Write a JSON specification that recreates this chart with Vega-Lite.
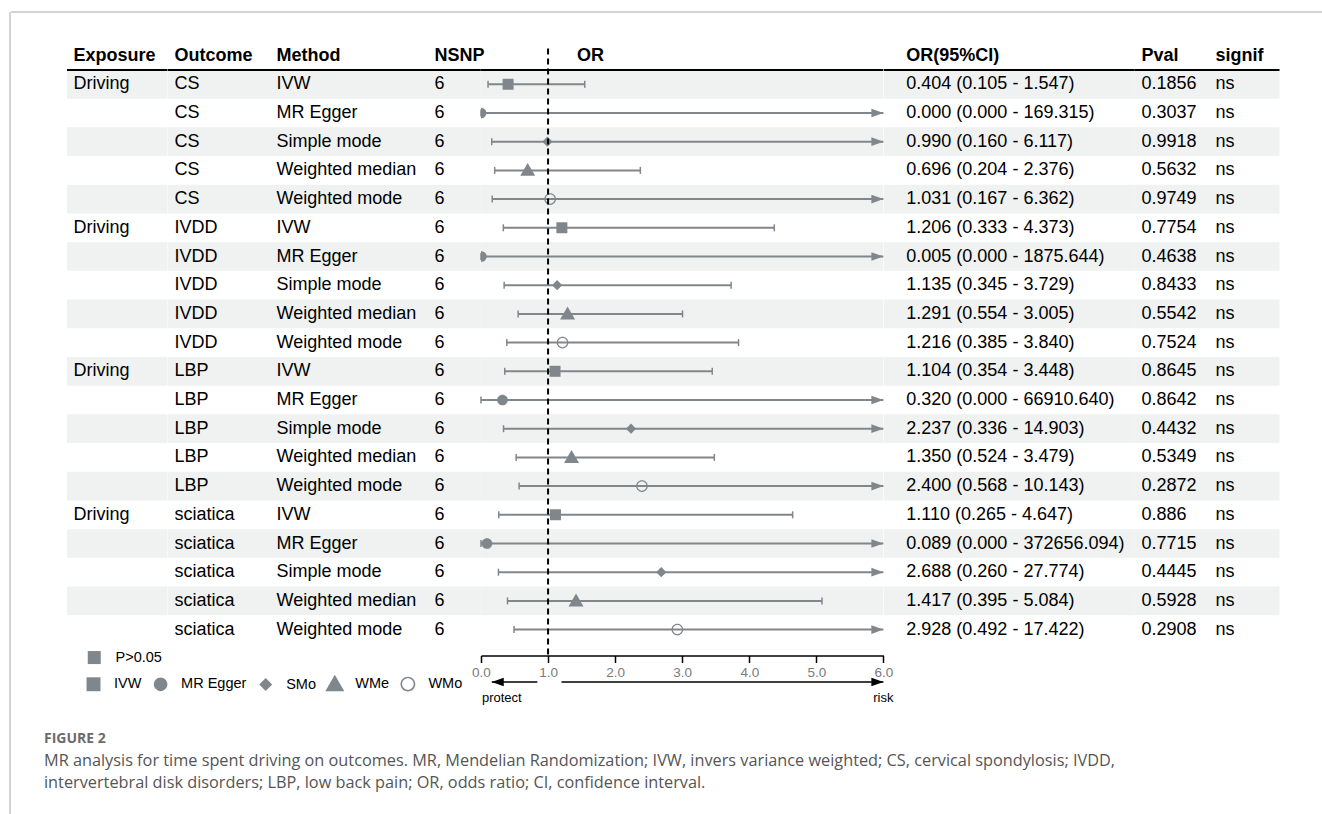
{
  "$schema": "https://vega.github.io/schema/vega-lite/v6.json",
  "padding": {"left": 9, "top": 11, "right": 0, "bottom": 0},
  "bounds": "flush",
  "spacing": 0,
  "config": {
    "font": "Liberation Sans",
    "view": {"stroke": null},
    "text": {"font": "Liberation Sans", "fontSize": 18, "color": "#000"},
    "legend": {"symbolFillColor": "#80878c", "symbolStrokeWidth": 0, "padding": 0}
  },
  "datasets": {
    "rows": [
      {"row": 1, "Exposure": "Driving", "Outcome": "CS", "Method": "IVW", "NSNP": 6, "or": 0.404, "lower": 0.105, "upper": 1.547, "ci": "0.404 (0.105 - 1.547)", "Pval": "0.1856", "signif": "ns"},
      {"row": 2, "Exposure": "", "Outcome": "CS", "Method": "MR Egger", "NSNP": 6, "or": 0.000, "lower": 0.000, "upper": 169.315, "ci": "0.000 (0.000 - 169.315)", "Pval": "0.3037", "signif": "ns"},
      {"row": 3, "Exposure": "", "Outcome": "CS", "Method": "Simple mode", "NSNP": 6, "or": 0.990, "lower": 0.160, "upper": 6.117, "ci": "0.990 (0.160 - 6.117)", "Pval": "0.9918", "signif": "ns"},
      {"row": 4, "Exposure": "", "Outcome": "CS", "Method": "Weighted median", "NSNP": 6, "or": 0.696, "lower": 0.204, "upper": 2.376, "ci": "0.696 (0.204 - 2.376)", "Pval": "0.5632", "signif": "ns"},
      {"row": 5, "Exposure": "", "Outcome": "CS", "Method": "Weighted mode", "NSNP": 6, "or": 1.031, "lower": 0.167, "upper": 6.362, "ci": "1.031 (0.167 - 6.362)", "Pval": "0.9749", "signif": "ns"},
      {"row": 6, "Exposure": "Driving", "Outcome": "IVDD", "Method": "IVW", "NSNP": 6, "or": 1.206, "lower": 0.333, "upper": 4.373, "ci": "1.206 (0.333 - 4.373)", "Pval": "0.7754", "signif": "ns"},
      {"row": 7, "Exposure": "", "Outcome": "IVDD", "Method": "MR Egger", "NSNP": 6, "or": 0.005, "lower": 0.000, "upper": 1875.644, "ci": "0.005 (0.000 - 1875.644)", "Pval": "0.4638", "signif": "ns"},
      {"row": 8, "Exposure": "", "Outcome": "IVDD", "Method": "Simple mode", "NSNP": 6, "or": 1.135, "lower": 0.345, "upper": 3.729, "ci": "1.135 (0.345 - 3.729)", "Pval": "0.8433", "signif": "ns"},
      {"row": 9, "Exposure": "", "Outcome": "IVDD", "Method": "Weighted median", "NSNP": 6, "or": 1.291, "lower": 0.554, "upper": 3.005, "ci": "1.291 (0.554 - 3.005)", "Pval": "0.5542", "signif": "ns"},
      {"row": 10, "Exposure": "", "Outcome": "IVDD", "Method": "Weighted mode", "NSNP": 6, "or": 1.216, "lower": 0.385, "upper": 3.840, "ci": "1.216 (0.385 - 3.840)", "Pval": "0.7524", "signif": "ns"},
      {"row": 11, "Exposure": "Driving", "Outcome": "LBP", "Method": "IVW", "NSNP": 6, "or": 1.104, "lower": 0.354, "upper": 3.448, "ci": "1.104 (0.354 - 3.448)", "Pval": "0.8645", "signif": "ns"},
      {"row": 12, "Exposure": "", "Outcome": "LBP", "Method": "MR Egger", "NSNP": 6, "or": 0.320, "lower": 0.000, "upper": 66910.640, "ci": "0.320 (0.000 - 66910.640)", "Pval": "0.8642", "signif": "ns"},
      {"row": 13, "Exposure": "", "Outcome": "LBP", "Method": "Simple mode", "NSNP": 6, "or": 2.237, "lower": 0.336, "upper": 14.903, "ci": "2.237 (0.336 - 14.903)", "Pval": "0.4432", "signif": "ns"},
      {"row": 14, "Exposure": "", "Outcome": "LBP", "Method": "Weighted median", "NSNP": 6, "or": 1.350, "lower": 0.524, "upper": 3.479, "ci": "1.350 (0.524 - 3.479)", "Pval": "0.5349", "signif": "ns"},
      {"row": 15, "Exposure": "", "Outcome": "LBP", "Method": "Weighted mode", "NSNP": 6, "or": 2.400, "lower": 0.568, "upper": 10.143, "ci": "2.400 (0.568 - 10.143)", "Pval": "0.2872", "signif": "ns"},
      {"row": 16, "Exposure": "Driving", "Outcome": "sciatica", "Method": "IVW", "NSNP": 6, "or": 1.110, "lower": 0.265, "upper": 4.647, "ci": "1.110 (0.265 - 4.647)", "Pval": "0.886", "signif": "ns"},
      {"row": 17, "Exposure": "", "Outcome": "sciatica", "Method": "MR Egger", "NSNP": 6, "or": 0.089, "lower": 0.000, "upper": 372656.094, "ci": "0.089 (0.000 - 372656.094)", "Pval": "0.7715", "signif": "ns"},
      {"row": 18, "Exposure": "", "Outcome": "sciatica", "Method": "Simple mode", "NSNP": 6, "or": 2.688, "lower": 0.260, "upper": 27.774, "ci": "2.688 (0.260 - 27.774)", "Pval": "0.4445", "signif": "ns"},
      {"row": 19, "Exposure": "", "Outcome": "sciatica", "Method": "Weighted median", "NSNP": 6, "or": 1.417, "lower": 0.395, "upper": 5.084, "ci": "1.417 (0.395 - 5.084)", "Pval": "0.5928", "signif": "ns"},
      {"row": 20, "Exposure": "", "Outcome": "sciatica", "Method": "Weighted mode", "NSNP": 6, "or": 2.928, "lower": 0.492, "upper": 17.422, "ci": "2.928 (0.492 - 17.422)", "Pval": "0.2908", "signif": "ns"}
    ],
    "headers": [
      {"col": "Exposure"}, {"col": "Outcome"}, {"col": "Method"}, {"col": "NSNP"},
      {"col": "OR"}, {"col": "OR(95%CI)"}, {"col": "Pval"}, {"col": "signif"}
    ],
    "arrows": [
      {"label": "protect", "from": 0.84, "to": 0.16, "at": 0.31},
      {"label": "risk", "from": 1.2, "to": 6, "at": 6}
    ],
    "caption": [
      {"i": 0, "line": "FIGURE 2"},
      {"i": 1, "line": "MR analysis for time spent driving on outcomes. MR, Mendelian Randomization; IVW, invers variance weighted; CS, cervical spondylosis; IVDD,"},
      {"i": 2, "line": "intervertebral disk disorders; LBP, low back pain; OR, odds ratio; CI, confidence interval."}
    ]
  },
  "hconcat": [
    {
      "width": 1, "height": 900,
      "data": {"values": [{"k": 0}]},
      "mark": {"type": "rule", "color": "#a8a8a8", "strokeWidth": 1},
      "encoding": {"x": {"datum": 0, "type": "quantitative", "scale": {"domain": [0, 1]}, "axis": null}}
    },
    {
      "vconcat": [
        {
          "width": 1312, "height": 1,
          "data": {"values": [{"k": 0}]},
          "mark": {"type": "rule", "color": "#a8a8a8", "strokeWidth": 1},
          "encoding": {"y": {"datum": 1, "type": "quantitative", "scale": {"domain": [0, 1]}, "axis": null}}
        },
        {
          "hconcat": [
            {
              "width": 56, "height": 642.5,
              "data": {"name": "caption"},
              "layer": [
                {"transform": [{"filter": "datum.i == 0"}], "mark": {"type": "text", "align": "left", "dx": 33, "font": "Open Sans", "fontWeight": "bold", "fontSize": 14, "color": "#6b6b6b"},
                 "encoding": {"x": {"value": 0}, "y": {"field": "i", "type": "quantitative", "scale": {"domain": [-33, -3.7955], "reverse": true, "nice": false, "zero": false}, "axis": null}, "text": {"field": "line"}}},
                {"transform": [{"filter": "datum.i > 0"}], "mark": {"type": "text", "align": "left", "dx": 33, "font": "Open Sans", "fontSize": 16.3, "color": "#555"},
                 "encoding": {"x": {"value": 0}, "y": {"field": "i", "type": "quantitative"}, "text": {"field": "line"}}}
              ]
            },
            {
              "width": 100.5, "height": 642.5,
              "layer": [
                {"data": {"name": "rows"}, "transform": [{"filter": "datum.row % 2 == 1"}], "mark": {"type": "rect", "color": "#eff2f1", "yOffset": -14.35, "y2Offset": 14.35}, "encoding": {"x": {"value": 0}, "x2": {"value": "width"}, "y": {"field": "row", "type": "quantitative", "scale": {"domain": [-1.4843, 20.9024], "reverse": true, "nice": false, "zero": false}, "axis": null}, "y2": {"field": "row"}}},
                {"data": {"name": "headers"}, "transform": [{"filter": "datum.col == 'Exposure'"}], "mark": {"type": "rule", "color": "#000", "strokeWidth": 2}, "encoding": {"y": {"datum": 0.5, "type": "quantitative"}}},
                {"data": {"name": "headers"}, "transform": [{"filter": "datum.col == 'Exposure'"}], "mark": {"type": "text", "align": "left", "dx": 6.5, "fontWeight": "bold"}, "encoding": {"x": {"value": 0}, "y": {"datum": 0, "type": "quantitative"}, "text": {"field": "col"}}},
                {"data": {"name": "rows"}, "mark": {"type": "text", "align": "left", "dx": 6.5}, "encoding": {"x": {"value": 0}, "y": {"field": "row", "type": "quantitative"}, "text": {"field": "Exposure"}}}
              ]
            },
            {
              "width": 102, "height": 642.5,
              "layer": [
                {"data": {"name": "rows"}, "transform": [{"filter": "datum.row % 2 == 1"}], "mark": {"type": "rect", "color": "#eff2f1", "yOffset": -14.35, "y2Offset": 14.35}, "encoding": {"x": {"value": 0}, "x2": {"value": "width"}, "y": {"field": "row", "type": "quantitative", "scale": {"domain": [-1.4843, 20.9024], "reverse": true, "nice": false, "zero": false}, "axis": null}, "y2": {"field": "row"}}},
                {"data": {"name": "headers"}, "transform": [{"filter": "datum.col == 'Outcome'"}], "mark": {"type": "rule", "color": "#000", "strokeWidth": 2}, "encoding": {"y": {"datum": 0.5, "type": "quantitative"}}},
                {"data": {"name": "headers"}, "transform": [{"filter": "datum.col == 'Outcome'"}], "mark": {"type": "text", "align": "left", "dx": 6.5, "fontWeight": "bold"}, "encoding": {"x": {"value": 0}, "y": {"datum": 0, "type": "quantitative"}, "text": {"field": "col"}}},
                {"data": {"name": "rows"}, "mark": {"type": "text", "align": "left", "dx": 6.5}, "encoding": {"x": {"value": 0}, "y": {"field": "row", "type": "quantitative"}, "text": {"field": "Outcome"}}}
              ]
            },
            {
              "width": 158, "height": 642.5,
              "layer": [
                {"data": {"name": "rows"}, "transform": [{"filter": "datum.row % 2 == 1"}], "mark": {"type": "rect", "color": "#eff2f1", "yOffset": -14.35, "y2Offset": 14.35}, "encoding": {"x": {"value": 0}, "x2": {"value": "width"}, "y": {"field": "row", "type": "quantitative", "scale": {"domain": [-1.4843, 20.9024], "reverse": true, "nice": false, "zero": false}, "axis": null}, "y2": {"field": "row"}}},
                {"data": {"name": "headers"}, "transform": [{"filter": "datum.col == 'Method'"}], "mark": {"type": "rule", "color": "#000", "strokeWidth": 2}, "encoding": {"y": {"datum": 0.5, "type": "quantitative"}}},
                {"data": {"name": "headers"}, "transform": [{"filter": "datum.col == 'Method'"}], "mark": {"type": "text", "align": "left", "dx": 6.5, "fontWeight": "bold"}, "encoding": {"x": {"value": 0}, "y": {"datum": 0, "type": "quantitative"}, "text": {"field": "col"}}},
                {"data": {"name": "rows"}, "mark": {"type": "text", "align": "left", "dx": 6.5}, "encoding": {"x": {"value": 0}, "y": {"field": "row", "type": "quantitative"}, "text": {"field": "Method"}}}
              ]
            },
            {
              "width": 52.8, "height": 642.5,
              "layer": [
                {"data": {"name": "rows"}, "transform": [{"filter": "datum.row % 2 == 1"}], "mark": {"type": "rect", "color": "#eff2f1", "yOffset": -14.35, "y2Offset": 14.35}, "encoding": {"x": {"value": 0}, "x2": {"value": "width"}, "y": {"field": "row", "type": "quantitative", "scale": {"domain": [-1.4843, 20.9024], "reverse": true, "nice": false, "zero": false}, "axis": null}, "y2": {"field": "row"}}},
                {"data": {"name": "headers"}, "transform": [{"filter": "datum.col == 'NSNP'"}], "mark": {"type": "rule", "color": "#000", "strokeWidth": 2}, "encoding": {"y": {"datum": 0.5, "type": "quantitative"}}},
                {"data": {"name": "headers"}, "transform": [{"filter": "datum.col == 'NSNP'"}], "mark": {"type": "text", "align": "left", "dx": 6.5, "fontWeight": "bold"}, "encoding": {"x": {"value": 0}, "y": {"datum": 0, "type": "quantitative"}, "text": {"field": "col"}}},
                {"data": {"name": "rows"}, "mark": {"type": "text", "align": "left", "dx": 6.5}, "encoding": {"x": {"value": 0}, "y": {"field": "row", "type": "quantitative"}, "text": {"field": "NSNP"}}}
              ]
            },
            {
              "width": 402.4, "height": 642.5,
              "layer": [
                {"data": {"name": "rows"}, "transform": [{"filter": "datum.row % 2 == 1"}], "mark": {"type": "rect", "color": "#eff2f1", "yOffset": -14.35, "y2Offset": 14.35}, "encoding": {"x": {"value": 0}, "x2": {"value": "width"}, "y": {"field": "row", "type": "quantitative", "scale": {"domain": [-1.4843, 20.9024], "reverse": true, "nice": false, "zero": false}, "axis": null}, "y2": {"field": "row"}}},
                {"data": {"name": "headers"}, "transform": [{"filter": "datum.col == 'OR'"}], "mark": {"type": "rule", "color": "#000", "strokeWidth": 2}, "encoding": {"y": {"datum": 0.5, "type": "quantitative"}}},
                {"data": {"name": "headers"}, "transform": [{"filter": "datum.col == 'OR'"}], "mark": {"type": "text", "align": "left", "dx": 96, "fontWeight": "bold"}, "encoding": {"x": {"value": 0}, "y": {"datum": 0, "type": "quantitative"}, "text": {"field": "col"}}},
                {"data": {"name": "rows"}, "mark": {"type": "rule", "color": "#80878c", "strokeWidth": 2},
                 "encoding": {
                   "x": {"field": "lower", "type": "quantitative", "scale": {"domain": [0, 6], "clamp": true, "nice": false, "zero": false},
                         "axis": {"values": [0, 1, 2, 3, 4, 5, 6], "format": ".1f", "title": null, "grid": false, "domainColor": "#000", "domainWidth": 1.5, "tickColor": "#000", "tickWidth": 1.5, "tickSize": 7, "labelColor": "#7a7a7a", "labelFontSize": 13.5, "labelFont": "Liberation Sans", "labelPadding": 3, "labelFlush": false}},
                   "x2": {"field": "upper"},
                   "y": {"field": "row", "type": "quantitative"}}},
                {"data": {"name": "rows"}, "mark": {"type": "point", "shape": "M0,-1L0,1", "filled": false, "color": "#80878c", "strokeWidth": 1.5, "size": 49, "opacity": 1},
                 "encoding": {"x": {"field": "lower", "type": "quantitative", "axis": {"values": [0, 1, 2, 3, 4, 5, 6], "format": ".1f", "title": null, "grid": false, "domainColor": "#000", "domainWidth": 1.5, "tickColor": "#000", "tickWidth": 1.5, "tickSize": 7, "labelColor": "#7a7a7a", "labelFontSize": 13.5, "labelFont": "Liberation Sans", "labelPadding": 3, "labelFlush": false}}, "y": {"field": "row", "type": "quantitative"}}},
                {"data": {"name": "rows"}, "transform": [{"filter": "datum.upper <= 6"}], "mark": {"type": "point", "shape": "M0,-1L0,1", "filled": false, "color": "#80878c", "strokeWidth": 1.5, "size": 49, "opacity": 1},
                 "encoding": {"x": {"field": "upper", "type": "quantitative", "axis": {"values": [0, 1, 2, 3, 4, 5, 6], "format": ".1f", "title": null, "grid": false, "domainColor": "#000", "domainWidth": 1.5, "tickColor": "#000", "tickWidth": 1.5, "tickSize": 7, "labelColor": "#7a7a7a", "labelFontSize": 13.5, "labelFont": "Liberation Sans", "labelPadding": 3, "labelFlush": false}}, "y": {"field": "row", "type": "quantitative"}}},
                {"data": {"name": "rows"}, "transform": [{"filter": "datum.upper > 6"}], "mark": {"type": "point", "shape": "M0,0L-1.8,-0.65L-1.8,0.65Z", "filled": true, "color": "#80878c", "size": 178, "opacity": 1, "strokeWidth": 0},
                 "encoding": {"x": {"field": "upper", "type": "quantitative", "axis": {"values": [0, 1, 2, 3, 4, 5, 6], "format": ".1f", "title": null, "grid": false, "domainColor": "#000", "domainWidth": 1.5, "tickColor": "#000", "tickWidth": 1.5, "tickSize": 7, "labelColor": "#7a7a7a", "labelFontSize": 13.5, "labelFont": "Liberation Sans", "labelPadding": 3, "labelFlush": false}}, "y": {"field": "row", "type": "quantitative"}}},
                {"data": {"name": "rows"}, "mark": {"type": "point", "filled": true, "size": 225, "opacity": 1, "strokeWidth": 0, "clip": true},
                 "encoding": {
                   "x": {"field": "or", "type": "quantitative", "axis": {"values": [0, 1, 2, 3, 4, 5, 6], "format": ".1f", "title": null, "grid": false, "domainColor": "#000", "domainWidth": 1.5, "tickColor": "#000", "tickWidth": 1.5, "tickSize": 7, "labelColor": "#7a7a7a", "labelFontSize": 13.5, "labelFont": "Liberation Sans", "labelPadding": 3, "labelFlush": false}},
                   "y": {"field": "row", "type": "quantitative"},
                   "color": {"field": "signif", "type": "nominal", "scale": {"domain": ["ns"], "range": ["#80878c"]},
                             "legend": {"orient": "none", "legendX": 77, "legendY": 638.3, "title": null, "labelExpr": "'P>0.05'", "symbolType": "square", "symbolSize": 169, "labelFont": "Liberation Sans", "labelFontSize": 14.5, "labelColor": "#000", "labelOffset": 14, "padding": 0}},
                   "shape": {"field": "Method", "type": "nominal",
                             "scale": {"domain": ["IVW", "MR Egger", "Simple mode", "Weighted median", "Weighted mode"],
                                       "range": ["M-0.733,-0.733H0.733V0.733H-0.733Z",
                                                 "M0.713,0A0.713,0.713,0,1,1,-0.713,0A0.713,0.713,0,1,1,0.713,0Z",
                                                 "M0,-0.68L0.68,0L0,0.68L-0.68,0Z",
                                                 "M0,-1L1,0.73L-1,0.73Z",
                                                 "M0.78,0A0.78,0.78,0,1,1,-0.78,0A0.78,0.78,0,1,1,0.78,0ZM0.61,0A0.61,0.61,0,1,0,-0.61,0A0.61,0.61,0,1,0,0.61,0Z"]},
                             "legend": {"orient": "none", "legendX": 74, "legendY": 662.5, "direction": "horizontal", "title": null, "symbolSize": 361, "symbolFillColor": "#80878c", "symbolStrokeWidth": 0, "labelFont": "Liberation Sans", "labelFontSize": 14.5, "labelColor": "#000", "labelOffset": 11, "columnPadding": 9.1, "padding": 0,
                                        "labelExpr": "datum.label == 'Simple mode' ? 'SMo' : datum.label == 'Weighted median' ? 'WMe' : datum.label == 'Weighted mode' ? 'WMo' : datum.label"}}
                 }},
                {"data": {"name": "headers"}, "transform": [{"filter": "datum.col == 'OR'"}], "mark": {"type": "rule", "color": "#000", "strokeWidth": 2, "strokeDash": [6, 4]},
                 "encoding": {"x": {"datum": 1, "type": "quantitative", "axis": {"values": [0, 1, 2, 3, 4, 5, 6], "format": ".1f", "title": null, "grid": false, "domainColor": "#000", "domainWidth": 1.5, "tickColor": "#000", "tickWidth": 1.5, "tickSize": 7, "labelColor": "#7a7a7a", "labelFontSize": 13.5, "labelFont": "Liberation Sans", "labelPadding": 3, "labelFlush": false}}, "y": {"datum": -0.25, "type": "quantitative"}, "y2": {"datum": 20.9024}}},
                {"data": {"name": "arrows"}, "mark": {"type": "rule", "color": "#000", "strokeWidth": 1.5},
                 "encoding": {"x": {"field": "from", "type": "quantitative", "axis": {"values": [0, 1, 2, 3, 4, 5, 6], "format": ".1f", "title": null, "grid": false, "domainColor": "#000", "domainWidth": 1.5, "tickColor": "#000", "tickWidth": 1.5, "tickSize": 7, "labelColor": "#7a7a7a", "labelFontSize": 13.5, "labelFont": "Liberation Sans", "labelPadding": 3, "labelFlush": false}}, "x2": {"field": "to"}, "y": {"datum": 21.826, "type": "quantitative"}}},
                {"data": {"name": "arrows"}, "transform": [{"filter": "datum.label == 'protect'"}], "mark": {"type": "point", "shape": "M0,0L1.8,-0.65L1.8,0.65Z", "filled": true, "color": "#000", "size": 178, "opacity": 1, "strokeWidth": 0},
                 "encoding": {"x": {"field": "to", "type": "quantitative", "axis": {"values": [0, 1, 2, 3, 4, 5, 6], "format": ".1f", "title": null, "grid": false, "domainColor": "#000", "domainWidth": 1.5, "tickColor": "#000", "tickWidth": 1.5, "tickSize": 7, "labelColor": "#7a7a7a", "labelFontSize": 13.5, "labelFont": "Liberation Sans", "labelPadding": 3, "labelFlush": false}}, "y": {"datum": 21.826, "type": "quantitative"}}},
                {"data": {"name": "arrows"}, "transform": [{"filter": "datum.label == 'risk'"}], "mark": {"type": "point", "shape": "M0,0L-1.8,-0.65L-1.8,0.65Z", "filled": true, "color": "#000", "size": 178, "opacity": 1, "strokeWidth": 0},
                 "encoding": {"x": {"field": "to", "type": "quantitative", "axis": {"values": [0, 1, 2, 3, 4, 5, 6], "format": ".1f", "title": null, "grid": false, "domainColor": "#000", "domainWidth": 1.5, "tickColor": "#000", "tickWidth": 1.5, "tickSize": 7, "labelColor": "#7a7a7a", "labelFontSize": 13.5, "labelFont": "Liberation Sans", "labelPadding": 3, "labelFlush": false}}, "y": {"datum": 21.826, "type": "quantitative"}}},
                {"data": {"name": "arrows"}, "mark": {"type": "text", "align": "center", "fontSize": 13, "color": "#000"},
                 "encoding": {"x": {"field": "at", "type": "quantitative", "axis": {"values": [0, 1, 2, 3, 4, 5, 6], "format": ".1f", "title": null, "grid": false, "domainColor": "#000", "domainWidth": 1.5, "tickColor": "#000", "tickWidth": 1.5, "tickSize": 7, "labelColor": "#7a7a7a", "labelFontSize": 13.5, "labelFont": "Liberation Sans", "labelPadding": 3, "labelFlush": false}}, "y": {"datum": 22.38, "type": "quantitative"}, "text": {"field": "label"}}}
              ]
            },
            {
              "width": 250.8, "height": 642.5,
              "layer": [
                {"data": {"name": "rows"}, "transform": [{"filter": "datum.row % 2 == 1"}], "mark": {"type": "rect", "color": "#eff2f1", "yOffset": -14.35, "y2Offset": 14.35}, "encoding": {"x": {"value": 0}, "x2": {"value": "width"}, "y": {"field": "row", "type": "quantitative", "scale": {"domain": [-1.4843, 20.9024], "reverse": true, "nice": false, "zero": false}, "axis": null}, "y2": {"field": "row"}}},
                {"data": {"name": "headers"}, "transform": [{"filter": "datum.col == 'OR(95%CI)'"}], "mark": {"type": "rule", "color": "#000", "strokeWidth": 2}, "encoding": {"y": {"datum": 0.5, "type": "quantitative"}}},
                {"data": {"name": "headers"}, "transform": [{"filter": "datum.col == 'OR(95%CI)'"}], "mark": {"type": "text", "align": "left", "dx": 22.3, "fontWeight": "bold"}, "encoding": {"x": {"value": 0}, "y": {"datum": 0, "type": "quantitative"}, "text": {"field": "col"}}},
                {"data": {"name": "rows"}, "mark": {"type": "text", "align": "left", "dx": 22.3}, "encoding": {"x": {"value": 0}, "y": {"field": "row", "type": "quantitative"}, "text": {"field": "ci"}}}
              ]
            },
            {
              "width": 74, "height": 642.5,
              "layer": [
                {"data": {"name": "rows"}, "transform": [{"filter": "datum.row % 2 == 1"}], "mark": {"type": "rect", "color": "#eff2f1", "yOffset": -14.35, "y2Offset": 14.35}, "encoding": {"x": {"value": 0}, "x2": {"value": "width"}, "y": {"field": "row", "type": "quantitative", "scale": {"domain": [-1.4843, 20.9024], "reverse": true, "nice": false, "zero": false}, "axis": null}, "y2": {"field": "row"}}},
                {"data": {"name": "headers"}, "transform": [{"filter": "datum.col == 'Pval'"}], "mark": {"type": "rule", "color": "#000", "strokeWidth": 2}, "encoding": {"y": {"datum": 0.5, "type": "quantitative"}}},
                {"data": {"name": "headers"}, "transform": [{"filter": "datum.col == 'Pval'"}], "mark": {"type": "text", "align": "left", "dx": 6.5, "fontWeight": "bold"}, "encoding": {"x": {"value": 0}, "y": {"datum": 0, "type": "quantitative"}, "text": {"field": "col"}}},
                {"data": {"name": "rows"}, "mark": {"type": "text", "align": "left", "dx": 6.5}, "encoding": {"x": {"value": 0}, "y": {"field": "row", "type": "quantitative"}, "text": {"field": "Pval"}}}
              ]
            },
            {
              "width": 70.5, "height": 642.5,
              "layer": [
                {"data": {"name": "rows"}, "transform": [{"filter": "datum.row % 2 == 1"}], "mark": {"type": "rect", "color": "#eff2f1", "yOffset": -14.35, "y2Offset": 14.35}, "encoding": {"x": {"value": 0}, "x2": {"value": "width"}, "y": {"field": "row", "type": "quantitative", "scale": {"domain": [-1.4843, 20.9024], "reverse": true, "nice": false, "zero": false}, "axis": null}, "y2": {"field": "row"}}},
                {"data": {"name": "headers"}, "transform": [{"filter": "datum.col == 'signif'"}], "mark": {"type": "rule", "color": "#000", "strokeWidth": 2}, "encoding": {"y": {"datum": 0.5, "type": "quantitative"}}},
                {"data": {"name": "headers"}, "transform": [{"filter": "datum.col == 'signif'"}], "mark": {"type": "text", "align": "left", "dx": 6.5, "fontWeight": "bold"}, "encoding": {"x": {"value": 0}, "y": {"datum": 0, "type": "quantitative"}, "text": {"field": "col"}}},
                {"data": {"name": "rows"}, "mark": {"type": "text", "align": "left", "dx": 6.5}, "encoding": {"x": {"value": 0}, "y": {"field": "row", "type": "quantitative"}, "text": {"field": "signif"}}}
              ]
            }
          ],
          "spacing": 0,
          "bounds": "flush"
        }
      ],
      "spacing": 0,
      "bounds": "flush"
    }
  ]
}
